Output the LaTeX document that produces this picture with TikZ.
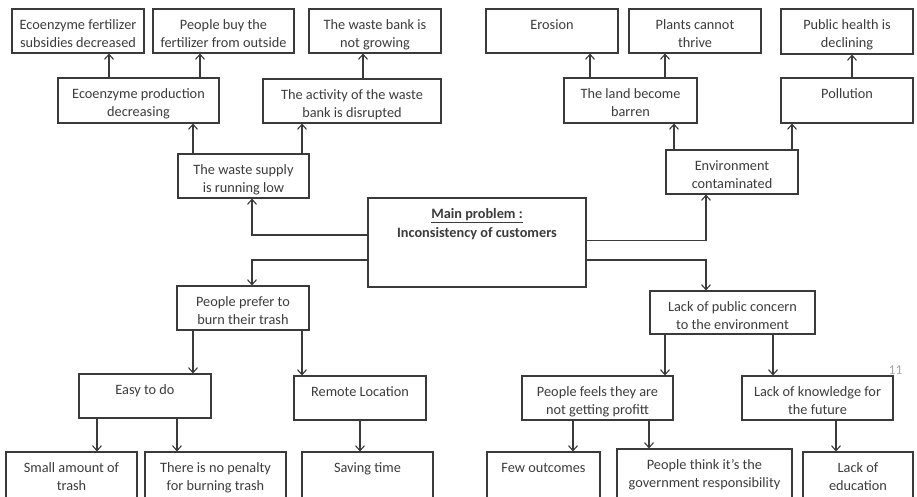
\documentclass[tikz,border=0pt]{standalone}
\usepackage{fontspec}
\setmainfont{Carlito}
\usetikzlibrary{arrows.meta,fit}
\definecolor{ln}{HTML}{3A3A3A}
\definecolor{tx}{HTML}{3C3C3C}
\tikzset{
  bx/.style={draw=ln, line width=1.1pt, inner sep=0pt, fill=white},
  bt/.style={inner sep=0pt, align=center, text=tx, font=\fontsize{14.3}{18.5}\selectfont},
  arr/.style={draw=ln, line width=1.1pt, -{Straight Barb[length=5pt,width=9pt]}}
}
\newcommand\bx[6]{%
  \node[bx, fit={(#2,#3) (#4,#5)}] (#1) {};
  \node[bt, anchor=north] (#1t) at ([yshift=-7.5pt]#1.north) {\strut #6};}
\begin{document}
\begin{tikzpicture}[x=1pt,y=-1pt]
\fill[white] (0,0) rectangle (917,496);
\useasboundingbox (0,0) rectangle (917,496);
% left top
\bx{A1}{12}{9}{144}{53}{Ecoenzyme fertilizer\\subsidies decreased}
\bx{A2}{153}{9}{294}{53}{People buy the\\fertilizer from outside}
\bx{A3}{309}{9}{441}{53}{The waste bank is\\not growing}
\bx{B1}{58}{78}{219}{123}{Ecoenzyme production\\decreasing}
\bx{B2}{263}{79}{441}{123}{The activity of the waste\\bank is disrupted}
\bx{C}{178}{154}{309}{198}{The waste supply\\is running low}
% right top
\bx{E1}{486}{9}{618}{53}{Erosion}
\bx{E2}{629}{9}{761}{53}{Plants cannot\\thrive}
\bx{E3}{781}{9}{913}{54}{Public health is\\declining}
\bx{F1}{564}{78}{697}{123}{The land become\\barren}
\bx{F2}{781}{78}{913}{123}{Pollution}
\bx{G}{666}{150}{798}{194}{Environment\\contaminated}
% main
\node[bx, fit={(368,198) (586,287)}] (main) {};
\node[anchor=base, inner sep=0pt, text=tx, font=\fontsize{14.3}{18.5}\selectfont\bfseries] (mt1) at (477,218.3) {\underline{Main problem :}};
\node[anchor=base, inner sep=0pt, text=tx, font=\fontsize{14.3}{18.5}\selectfont\bfseries] (mt2) at (477,237.7) {Inconsistency of customers};
% left bottom
\bx{P}{177}{286}{309}{330}{People prefer to\\burn their trash}
\bx{Q1}{79}{374}{211}{418}{Easy to do}
\bx{Q2}{294}{376}{426}{420}{Remote Location}
\bx{R1}{6}{452}{137}{499}{Small amount of\\trash}
\bx{R2}{145}{452}{286}{499}{There is no penalty\\for burning trash}
\bx{R3}{302}{452}{433}{499}{Saving time}
% right bottom
\bx{S}{650}{291}{815}{334}{Lack of public concern\\to the environment}
\bx{T1}{522}{376}{673}{420}{People feels they are\\not getting profitt}
\bx{T2}{742}{376}{893}{420}{Lack of knowledge for\\the future}
\bx{U1}{487}{452}{600}{499}{Few outcomes}
\bx{U2}{617}{449}{792}{499}{People think it’s the\\government responsibility}
\bx{U3}{803}{452}{913}{499}{Lack of\\education}
\node[anchor=base, inner sep=0pt, text=black!35, font=\fontsize{13.5}{13.5}\selectfont] (pg) at (895.5,374) {11};
% connectors upward (left)
\draw[arr] (B1.north -| 109,0) -- (A1.south -| 109,0);
\draw[arr] (B1.north -| 200,0) -- (A2.south -| 200,0);
\draw[arr] (B2.north -| 363,0) -- (A3.south -| 363,0);
\draw[arr] (C.north -| 193,0) -- (B1.south -| 193,0);
\draw[arr] (C.north -| 302,0) -- (B2.south -| 302,0);
% connectors upward (right)
\draw[arr] (F1.north -| 590,0) -- (E1.south -| 590,0);
\draw[arr] (F1.north -| 665,0) -- (E2.south -| 665,0);
\draw[arr] (F2.north -| 852,0) -- (E3.south -| 852,0);
\draw[arr] (G.north -| 674,0) -- (F1.south -| 674,0);
\draw[arr] (G.north -| 792,0) -- (F2.south -| 792,0);
% from main
\draw[arr] (main.west |- 0,235) -| (C.south -| 252,0);
\draw[arr] (main.east |- 0,240.7) -| (G.south -| 706,0);
\draw[arr] (main.west |- 0,260) -| (P.north -| 252,0);
\draw[arr] (main.east |- 0,260) -| (S.north -| 706,0);
% downward (left)
\draw[arr] (P.south -| 193,0) -- (Q1.north -| 193,0);
\draw[arr] (P.south -| 302,0) -- (Q2.north -| 302,0);
\draw[arr] (Q1.south -| 97,0) -- (R1.north -| 97,0);
\draw[arr] (Q1.south -| 177,0) -- (R2.north -| 177,0);
\draw[arr] (Q2.south -| 360,0) -- (R3.north -| 360,0);
% downward (right)
\draw[arr] (S.south -| 665,0) -- (T1.north -| 665,0);
\draw[arr] (S.south -| 773,0) -- (T2.north -| 773,0);
\draw[arr] (T1.south -| 573,0) -- (U1.north -| 573,0);
\draw[arr] (T1.south -| 649,0) -- (U2.north -| 649,0);
\draw[arr] (T2.south -| 836,0) -- (U3.north -| 836,0);
\end{tikzpicture}
\end{document}
